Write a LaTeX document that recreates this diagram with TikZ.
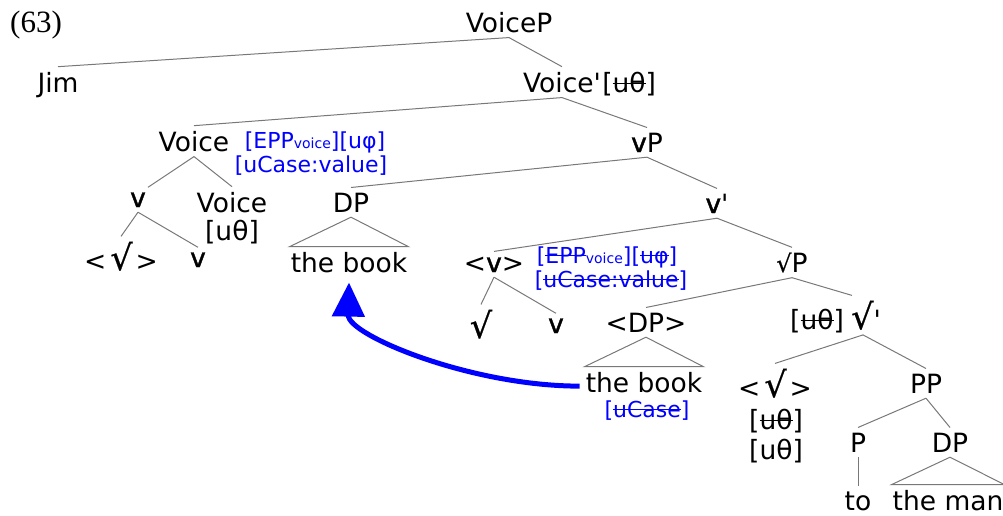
\documentclass[tikz,border=0pt]{standalone}
\usepackage{fontspec}
\setmainfont{DejaVu Sans}
\newfontfamily\exfont{Liberation Serif}
\newfontface\vface{DejaVu Sans}[FakeBold=1.5]
\newfontface\rface{DejaVu Sans}[FakeBold=0.6]
\usetikzlibrary{arrows.meta}
\definecolor{featblue}{RGB}{0,0,255}
\definecolor{branchgray}{RGB}{120,120,120}
% struck-through feature (checked/deleted)
\newsavebox\strkbox
\newcommand\strk[1]{\sbox\strkbox{#1}\rlap{\usebox\strkbox}\rule[0.3em]{\wd\strkbox}{1.5pt}}
\newcommand\vsub{{\fontsize{14}{14}\selectfont voice}}
\newcommand\lv{{\vface v}}
\newcommand\rt{{\rface\fontsize{35}{35}\selectfont √}}
\newcommand\srt{{\rface\fontsize{24}{24}\selectfont √}}
\newcommand\pr{\textquotesingle}

\begin{document}
\begin{tikzpicture}[x=1pt,y=-1pt,
  cat/.style={font=\fontsize{26.5}{30}\selectfont, inner xsep=1pt, inner ysep=5pt, anchor=base},
  feat/.style={font=\fontsize{22}{24}\selectfont, text=featblue, inner sep=0pt, anchor=base},
  branch/.style={draw=branchgray, line width=1pt},
  movearrow/.style={draw=featblue, line width=5pt, -{Triangle[width=32pt,length=34pt]}}
]
\useasboundingbox (0,0) rectangle (1003,515);

\node[font=\exfont\fontsize{31}{32}\selectfont, anchor=base] (exnum) at (36,32) {(63)};

% nodes
\node[cat] (voicep) at (509,32) {VoiceP};
\node[cat] (jim) at (58,92) {Jim};
\node[cat] (voicebar) at (562,92) {Voice\pr};
\node[cat, anchor=base west, inner xsep=0pt] (thetaA) at (voicebar.base east) {[\strk{uθ}]};

\node[cat] (voiceA) at (194,151) {Voice};
\node[feat] (featA1) at (315,148) {[EPP\vsub][uφ]};
\node[feat] (featA2) at (311,172) {[uCase:value]};
\node[cat] (vp) at (647,152) {\lv P};

\node[cat] (v1) at (138,207) {\lv};
\node[cat] (voiceB) at (232,212) {Voice};
\node[cat] (thetaB) at (232,240) {[uθ]};
\node[cat] (root1) at (121,270) {<\hspace{4pt}\rt\hspace{3pt}>};
\node[cat] (v2) at (198,267) {\lv};

\node[cat] (dpA) at (351,212) {DP};
\node[cat] (bookA) at (349,272) {the book};

\node[cat] (vbar) at (717,213) {\lv\pr};
\node[cat] (vtr) at (494,272) {<\lv>};
\node[feat] (featB1) at (607,263) {[\strk{EPP}\vsub][\strk{uφ}]};
\node[feat] (featB2) at (611,287) {[\strk{uCase:value}]};
\node[cat] (root2) at (481,338) {\rt};
\node[cat] (v3) at (556,333) {\lv};

\node[cat] (rootp) at (792,272) {\srt P};
\node[cat] (dptr) at (646,332) {<DP>};
\node[cat] (rootbar) at (866,329) {\rt\pr};
\node[cat] (thetaC) at (817,329) {[\strk{uθ}]};
\node[cat] (bookB) at (644,392) {the book};
\node[feat] (caseB) at (647,417) {[\strk{uCase}]};

\node[cat] (root3) at (775,397) {<\hspace{4pt}\rt\hspace{3pt}>};
\node[cat] (thetaD) at (776,429) {[\strk{uθ}]};
\node[cat] (thetaE) at (776,459) {[uθ]};
\node[cat] (pp) at (926,393) {PP};
\node[cat] (p) at (858,452) {P};
\node[cat] (dpB) at (950,452) {DP};
\node[cat] (to) at (858,510) {to};
\node[cat] (man) at (948,510) {the man};

% branches
\draw[branch] (voicep.south) -- (jim.north);
\draw[branch] (voicep.south) -- (voicebar.north);
\draw[branch] (voicebar.south) -- (voiceA.north);
\draw[branch] (voicebar.south) -- (vp.north);
\draw[branch] (voiceA.south) -- ([xshift=10pt]v1.north);
\draw[branch] (voiceA.south) -- (voiceB.north);
\draw[branch] (v1.south) -- (root1.north);
\draw[branch] (v1.south) -- (v2.north);
\draw[branch] (vp.south) -- (dpA.north);
\draw[branch] (vp.south) -- (vbar.north);
\draw[branch] (dpA.south) -- (bookA.north west) -- (bookA.north east) -- cycle;
\draw[branch] (vbar.south) -- (vtr.north);
\draw[branch] (vbar.south) -- (rootp.north);
\draw[branch] (vtr.south) -- (root2.north);
\draw[branch] (vtr.south) -- (v3.north);
\draw[branch] (rootp.south) -- (dptr.north);
\draw[branch] (rootp.south) -- ([xshift=-14pt]rootbar.north);
\draw[branch] (dptr.south) -- (bookB.north west) -- (bookB.north east) -- cycle;
\draw[branch] ([xshift=-3pt]rootbar.south) -- (root3.north);
\draw[branch] ([xshift=-3pt]rootbar.south) -- (pp.north);
\draw[branch] (pp.south) -- (p.north);
\draw[branch] (pp.south) -- (dpB.north);
\draw[branch] (p.south) -- (to.north);
\draw[branch] (dpB.south) -- (man.north west) -- (man.north east) -- cycle;

% movement of the object DP
\draw[movearrow] ([xshift=-5pt,yshift=-4pt]bookB.west) .. controls (470,386) and (348,335) .. ([yshift=-5pt]bookA.south);
\end{tikzpicture}
\end{document}
